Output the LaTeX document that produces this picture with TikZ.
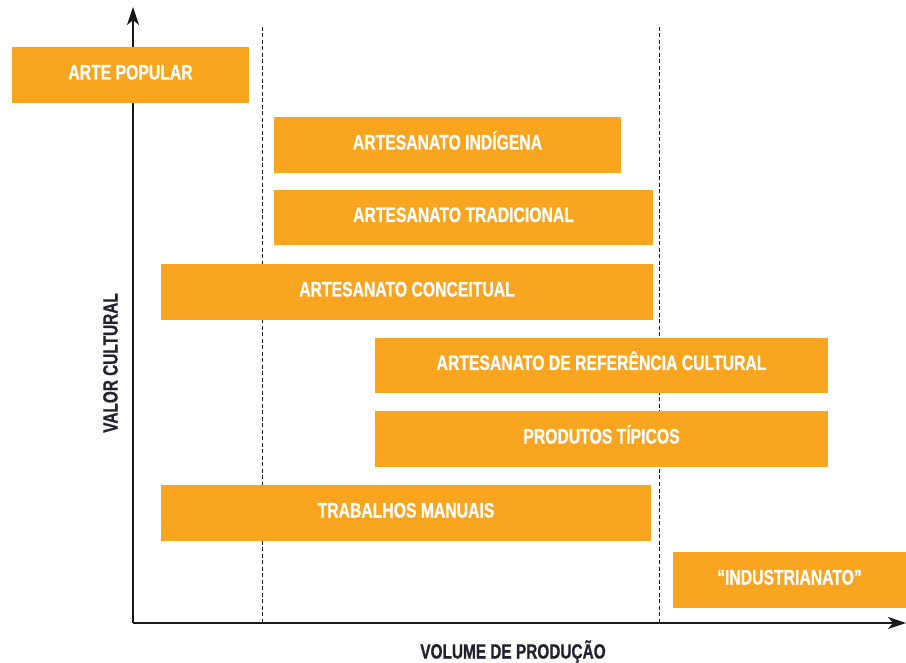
\documentclass[tikz,border=0pt]{standalone}
\usepackage{fontspec}
\setmainfont{Liberation Sans}[FakeStretch=0.75, BoldFeatures={FakeBold=0.8}]
\usetikzlibrary{arrows.meta}
\definecolor{boxorange}{HTML}{F9A51F}
\definecolor{labeldark}{HTML}{22222E}
\begin{document}
\begin{tikzpicture}[x=1pt,y=-1pt,
  box/.style={fill=boxorange, draw=none, inner sep=0pt, text=white,
    font=\fontsize{21}{22}\selectfont\bfseries, text height=15pt, text depth=6pt},
  axislabel/.style={text=labeldark, inner sep=0pt,
    font=\fontsize{20.5}{22}\selectfont\bfseries},
  axisline/.style={draw=black!90, line width=1.4pt, -{Stealth[length=18pt,width=12pt,inset=5pt]}},
  guide/.style={draw=black!90, line width=1pt, dash pattern=on 4pt off 2.5pt}]
\useasboundingbox (0,0) rectangle (906,663);
% axes and guides
\coordinate (o) at (133,623);
\coordinate (ytop) at (133,7);
\coordinate (xend) at (906,623);
\coordinate (d1t) at (262,27);
\coordinate (d1b) at (262,623);
\coordinate (d2t) at (659,27);
\coordinate (d2b) at (659,623);
\draw[guide] (d1t) -- (d1b);
\draw[guide] (d2t) -- (d2b);
\draw[axisline] (o) -- (ytop);
\draw[axisline] (o) -- (xend);
% boxes
\node[box, minimum width=237pt, minimum height=56pt] (ap) at (130.5,75) {ARTE POPULAR};
\node[box, minimum width=347pt, minimum height=56pt] (ind) at (447.5,145) {ARTESANATO INDÍGENA};
\node[box, minimum width=379pt, minimum height=55pt] (trad) at (463.5,217.5) {ARTESANATO TRADICIONAL};
\node[box, minimum width=492pt, minimum height=56pt] (conc) at (407,292) {ARTESANATO CONCEITUAL};
\node[box, minimum width=453pt, minimum height=55pt] (ref) at (601.5,365.5) {ARTESANATO DE REFERÊNCIA CULTURAL};
\node[box, minimum width=453pt, minimum height=56pt] (tip) at (601.5,439) {PRODUTOS TÍPICOS};
\node[box, minimum width=490pt, minimum height=56pt] (tm) at (406,513) {TRABALHOS MANUAIS};
\node[box, minimum width=233pt, minimum height=56pt] (indus) at (789.5,580) {“INDUSTRIANATO”};
% axis labels
\node[axislabel, rotate=90, anchor=base] (vc) at (117.5,363) {VALOR CULTURAL};
\node[axislabel, anchor=base] (vp) at (513,658.5) {VOLUME DE PRODUÇÃO};
\end{tikzpicture}
\end{document}
